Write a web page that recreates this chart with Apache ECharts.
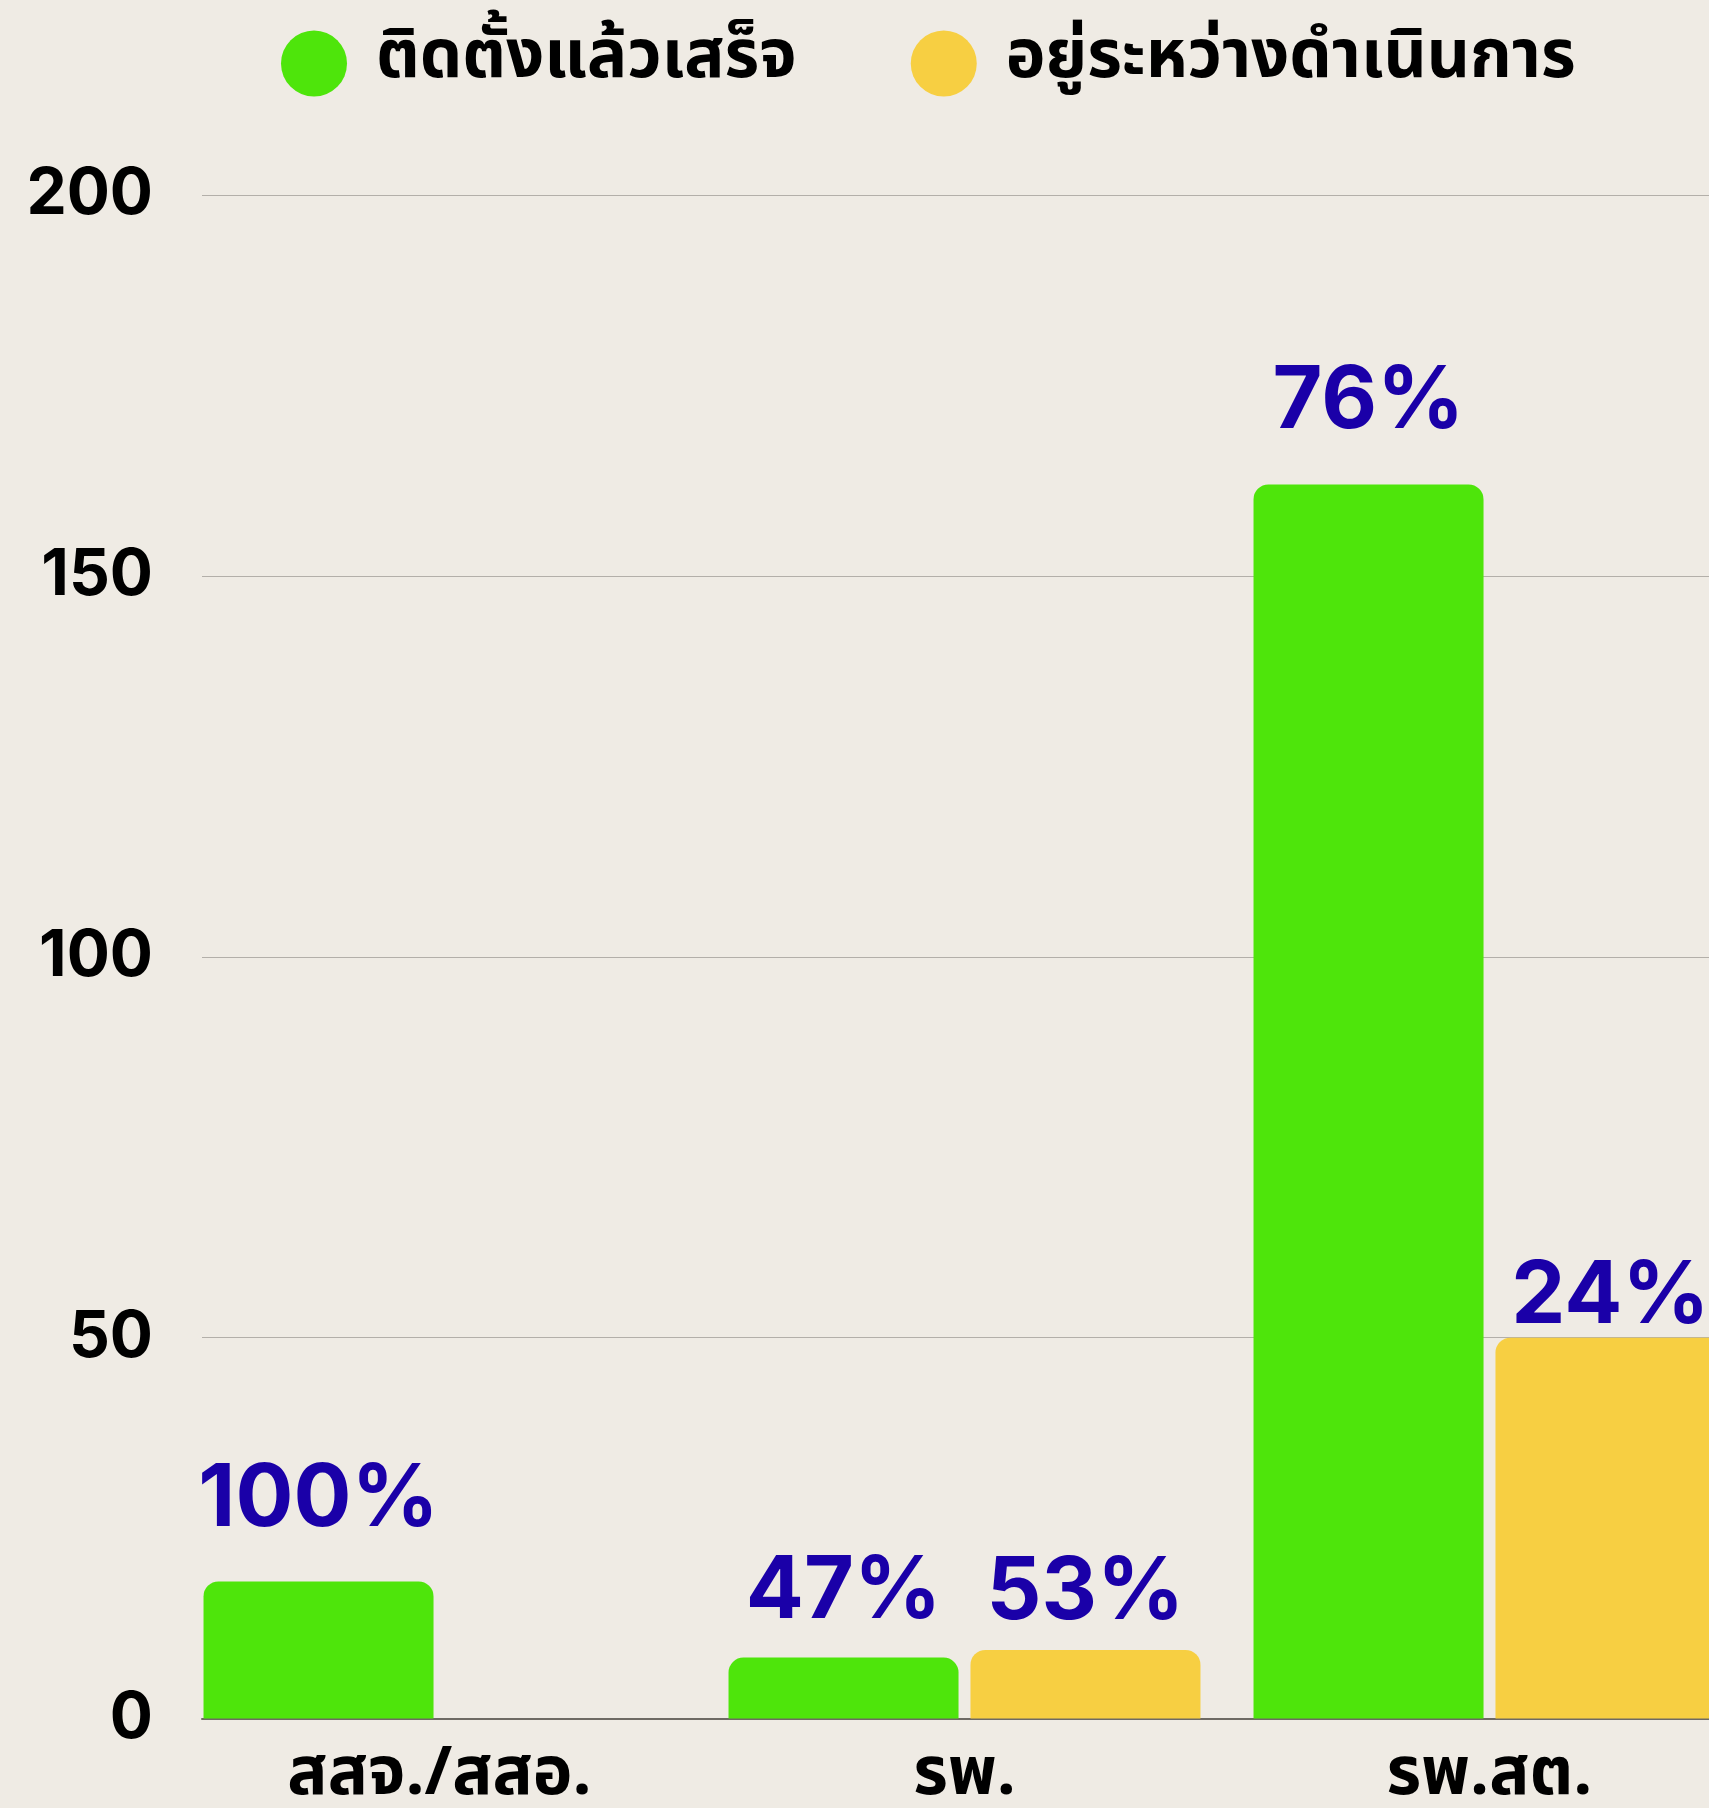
<!DOCTYPE html>
<html><head><meta charset="utf-8">
<script src="https://cdn.jsdelivr.net/npm/echarts@6/dist/echarts.min.js"></script>
<style>html,body{margin:0;padding:0;background:#EFEBE4;}#c{width:1709px;height:1808px;}</style>
</head><body><div id="c"></div>
<script>
const categories = ['สสจ./สสอ.', 'รพ.', 'รพ.สต.'];
const seriesNames = ['ติดตั้งแล้วเสร็จ', 'อยู่ระหว่างดำเนินการ'];
const doneValues = [18, 8, 162];
const pendingValues = [0, 9, 50];
const doneLabels = ['100%', '47%', '76%'];
const pendingLabels = ['', '53%', '24%'];
const yTicks = [0, 50, 100, 150, 200];

const GREEN = '#4EE50B', YELLOW = '#F7CF42', BLUE = '#1A00A8';
const thaiFont = '"Noto Sans Thai", "Noto Sans Thai UI", Loma, Garuda, "Noto Sans", sans-serif';
const numFont = 'Inter, "Noto Sans", sans-serif';
const doneLift = [38, 22, 39];
const pendingLift = [0, 14, -3];

function items(vals, texts, lifts) {
  return vals.map((v, i) => ({
    value: v,
    label: { show: texts[i] !== '', formatter: texts[i], distance: lifts[i] }
  }));
}
const labelBase = { show: true, position: 'top', color: BLUE, fontFamily: numFont, fontWeight: 700, fontSize: 86, lineHeight: 86 };

const chart = echarts.init(document.getElementById('c'), null, { renderer: 'canvas' });
chart.setOption({
  backgroundColor: '#EFEBE4',
  animation: false,
  legend: {
    data: seriesNames,
    left: 276, top: 25,
    icon: 'circle', itemWidth: 66, itemHeight: 66, itemGap: 114,
    textStyle: { fontFamily: thaiFont, fontWeight: 700, fontSize: 67, color: '#000', padding: [14, 0, 0, 24] }
  },
  grid: [
    { left: 177, top: 195, width: 1575, bottom: 89.5, outerBoundsMode: 'none', containLabel: false },
    { left: 202, top: 195, width: 1600, bottom: 89.5, outerBoundsMode: 'none', containLabel: false }
  ],
  xAxis: [
    { type: 'category', gridIndex: 0, data: categories,
      axisLine: { show: false }, axisTick: { show: false },
      axisLabel: { fontFamily: thaiFont, fontWeight: 700, fontSize: 67, color: '#000', margin: 28 } },
    { type: 'category', gridIndex: 1, data: [''],
      axisLine: { show: true, lineStyle: { color: '#6E6A64', width: 2 } },
      axisTick: { show: false }, axisLabel: { show: false }, splitLine: { show: false } }
  ],
  yAxis: [
    { type: 'value', gridIndex: 0, min: yTicks[0], max: yTicks[yTicks.length - 1], interval: 50, show: false },
    { type: 'value', gridIndex: 1, min: yTicks[0], max: yTicks[yTicks.length - 1], interval: 50,
      axisLine: { show: false }, axisTick: { show: false },
      axisLabel: { fontFamily: numFont, fontWeight: 700, fontSize: 64, color: '#000', margin: 49 },
      splitLine: { show: true, lineStyle: { color: '#B3AFA9', width: 1 } } }
  ],
  series: [
    { name: seriesNames[0], type: 'bar', xAxisIndex: 0, yAxisIndex: 0,
      barWidth: 230, barGap: '5.2%', z: 3,
      itemStyle: { color: GREEN, borderRadius: [15, 15, 0, 0] },
      label: labelBase,
      data: items(doneValues, doneLabels, doneLift) },
    { name: seriesNames[1], type: 'bar', xAxisIndex: 0, yAxisIndex: 0,
      barWidth: 230, z: 3,
      itemStyle: { color: YELLOW, borderRadius: [15, 15, 0, 0] },
      label: labelBase,
      data: items(pendingValues, pendingLabels, pendingLift) }
  ]
});
</script></body></html>
